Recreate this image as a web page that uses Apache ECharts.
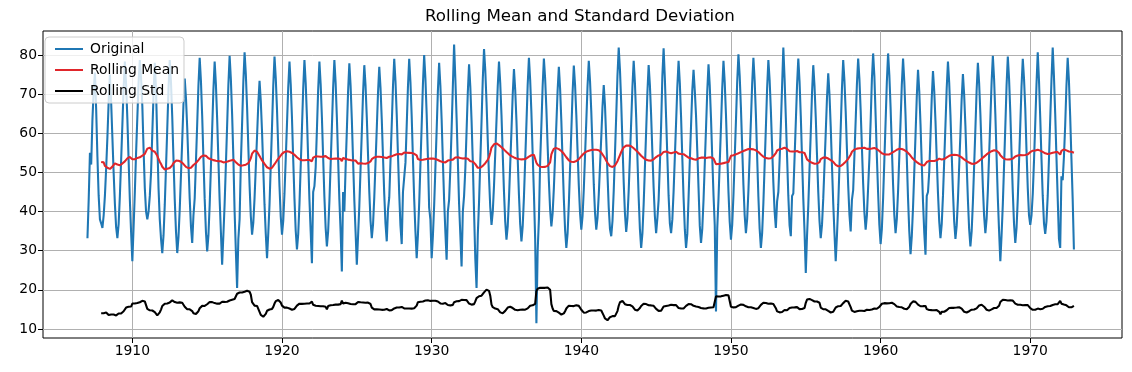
<!DOCTYPE html>
<html><head><meta charset="utf-8">
<script src="https://cdn.jsdelivr.net/npm/echarts@6/dist/echarts.min.js"></script>
<style>html,body{margin:0;padding:0;background:#fff}#c{width:1132px;height:372px}</style>
</head><body><div id="c"></div><script>
// Monthly series, Jan 1907 .. Dec 1972 (one row per year)
const startYear = 1907;
const original = [
33.2,43.0,55.0,52.0,63.5,71.0,75.5,66.0,54.0,44.0,38.0,37.0,
35.8,39.0,44.0,51.0,59.0,68.0,75.0,68.0,59.0,50.0,42.0,36.0,
33.2,36.8,44.0,53.0,62.1,71.5,78.3,72.5,63.8,53.2,43.0,34.8,
27.3,36.0,45.0,55.0,64.0,73.0,78.7,74.1,67.1,56.0,46.0,40.0,
38.0,40.0,44.0,50.0,60.0,70.0,78.0,71.0,58.0,46.0,38.0,33.0,
29.4,33.9,41.7,51.4,61.2,71.4,78.7,72.9,64.1,53.4,43.1,34.9,
29.4,33.5,40.6,49.4,58.2,67.4,74.0,69.0,61.4,52.2,43.3,36.2,
32.0,39.0,43.4,52.8,62.3,72.2,79.3,73.4,64.5,53.7,43.3,34.9,
29.8,33.9,41.6,51.3,60.9,71.1,78.3,72.5,63.8,53.2,43.0,34.8,
26.4,34.0,42.0,51.9,61.9,72.3,79.8,73.8,64.9,53.9,40.0,30.0,
20.5,33.0,38.0,52.3,62.4,73.1,80.7,75.1,66.7,56.5,46.7,38.8,
34.1,37.2,43.5,51.4,59.3,67.5,73.4,68.2,60.4,50.8,41.7,34.3,
28.1,34.5,41.9,51.8,61.7,72.2,79.6,74.1,66.0,55.9,46.4,38.7,
34.1,37.6,44.7,53.5,62.4,71.7,78.3,72.5,63.9,53.3,43.3,35.1,
30.3,34.2,41.9,51.6,61.3,71.4,78.7,72.9,64.1,53.4,43.1,34.9,
26.8,45.0,46.5,51.3,60.9,71.1,78.3,72.6,64.1,53.8,43.8,35.8,
31.1,34.9,42.5,52.0,61.6,71.6,78.7,72.9,64.1,53.4,43.1,34.9,
24.7,45.0,40.0,51.1,60.7,70.7,77.9,72.2,63.5,53.0,42.9,34.8,
26.4,33.8,41.4,50.9,60.3,70.3,77.4,72.1,64.1,54.4,45.1,37.6,
33.2,36.7,43.7,52.5,61.2,70.4,77.0,71.6,63.6,53.8,44.4,36.9,
32.4,40.5,43.6,52.9,62.2,72.0,79.0,73.3,64.8,54.4,44.5,36.4,
31.7,45.0,44.5,52.5,62.0,71.9,79.0,73.1,64.3,53.5,43.2,34.9,
28.1,34.0,42.0,52.0,62.0,72.5,80.0,74.0,65.0,54.0,41.0,38.0,
28.1,33.8,41.5,51.1,60.7,70.8,78.0,72.2,63.6,53.0,43.0,34.8,
27.7,40.0,43.0,51.0,61.0,72.0,82.7,74.0,64.0,53.0,42.0,34.0,
26.0,40.0,44.0,50.9,60.5,70.5,77.6,71.9,63.3,52.8,40.0,28.0,
20.5,34.1,42.4,52.7,63.0,73.8,81.5,76.1,68.0,58.2,48.7,41.1,
36.6,39.9,46.6,54.9,63.3,72.0,78.3,72.8,64.7,54.6,45.1,37.4,
32.8,36.3,43.3,52.0,60.7,69.9,76.4,71.1,63.2,53.5,44.3,36.8,
32.4,36.2,43.7,53.0,62.4,72.3,79.3,73.6,65.1,54.7,44.8,33.0,
11.5,30.0,38.0,52.7,62.1,72.0,79.1,74.0,66.2,56.8,47.8,40.5,
36.2,39.5,46.0,54.2,62.3,70.9,77.0,71.4,63.1,52.9,43.2,35.3,
30.7,34.4,41.9,51.2,60.5,70.3,77.3,72.3,64.7,55.5,46.7,39.6,
35.4,38.8,45.7,54.4,63.0,72.0,78.5,73.3,65.6,56.1,47.0,39.7,
35.4,38.4,44.3,51.6,59.0,66.8,72.3,67.0,58.5,49.5,41.0,35.5,
33.7,37.6,45.3,54.9,64.5,74.7,81.9,76.2,67.8,57.4,47.5,39.5,
34.8,38.3,45.3,54.0,62.8,71.9,78.5,72.8,64.2,53.6,43.6,35.5,
30.7,34.4,41.9,51.2,60.6,70.4,77.4,72.3,64.5,55.1,46.1,38.8,
34.5,38.3,43.0,52.0,62.0,74.6,81.7,74.0,64.0,54.0,44.0,37.0,
34.5,38.0,45.1,53.9,62.7,71.9,78.5,72.8,64.2,53.6,43.6,35.5,
30.7,34.3,43.5,53.0,62.0,71.0,76.2,70.9,64.5,55.5,46.0,36.4,
32.0,35.6,42.9,52.1,61.2,70.8,77.6,72.1,63.9,53.9,44.3,36.6,
14.5,35.7,43.2,52.5,61.8,71.5,78.5,73.0,64.8,54.7,45.1,37.4,
32.8,36.6,44.2,53.7,63.1,73.1,80.2,74.7,66.5,56.4,46.8,39.1,
34.5,38.1,45.3,54.2,63.2,72.6,79.3,73.5,64.7,54.0,43.8,35.6,
30.7,34.5,42.2,51.8,61.4,71.5,78.7,73.6,65.8,56.4,47.4,40.1,
35.8,42.6,45.0,53.0,62.0,72.0,81.9,74.0,64.0,54.0,44.0,36.5,
33.7,44.0,44.6,53.7,62.8,72.3,79.1,73.2,64.4,53.6,43.3,34.9,
24.3,33.8,41.4,50.9,60.3,70.3,77.4,72.1,64.1,54.4,45.1,37.6,
33.2,36.6,43.3,51.7,60.1,69.0,75.3,69.9,61.7,51.7,42.2,34.5,
27.3,33.9,41.7,51.4,61.2,71.4,78.7,73.4,65.6,55.9,46.7,39.3,
34.9,43.0,45.5,54.3,63.2,72.5,79.1,73.9,66.0,56.4,47.2,39.8,
35.4,39.0,46.2,53.5,63.0,73.7,80.4,74.6,64.5,54.0,44.8,36.6,
31.7,35.6,43.4,53.1,62.9,73.1,80.4,74.9,66.6,56.5,46.9,39.1,
34.5,38.1,45.2,54.1,63.0,72.4,79.1,73.2,64.4,53.6,43.3,34.9,
29.1,33.7,41.1,50.3,59.6,69.3,76.2,70.7,62.3,52.2,42.5,34.6,
29.0,44.0,45.0,50.2,59.4,69.0,75.9,70.8,63.1,53.7,44.7,37.5,
33.2,36.8,44.0,53.0,62.1,71.5,78.3,72.9,64.7,54.7,45.2,37.5,
33.0,36.4,43.1,51.5,59.9,68.8,75.1,69.8,61.9,52.2,43.0,35.5,
31.1,34.9,42.4,51.7,61.1,71.0,78.0,72.8,65.0,55.4,46.2,38.9,
34.5,38.1,45.4,54.4,63.5,73.0,79.8,73.8,64.9,53.9,43.4,35.0,
27.3,34.0,41.9,51.8,61.7,72.2,79.6,73.9,65.3,54.8,44.9,36.8,
32.0,35.8,43.3,52.7,62.1,72.0,79.0,73.9,66.3,55.5,46.0,39.0,
36.6,39.0,44.5,53.0,62.5,72.5,80.7,73.5,64.0,53.5,44.0,37.0,
34.3,37.5,44.0,53.5,63.5,73.5,81.9,74.5,65.0,54.0,43.5,33.0,
30.7,49.0,48.0,54.0,62.0,72.0,79.3,73.5,64.5,53.7,43.3,30.3
];
const xTicks = [1910, 1920, 1930, 1940, 1950, 1960, 1970];
const yTicks = [10, 20, 30, 40, 50, 60, 70, 80];
const windowSize = 12;
const seriesNames = ['Original', 'Rolling Mean', 'Rolling Std'];

// build [x, y] pairs (decimal year) and trailing 12-month rolling stats
const origData = original.map((v, i) => [startYear + i / 12, v]);
const meanData = [], stdData = [];
for (let i = windowSize - 1; i < original.length; i++) {
  const w = original.slice(i - windowSize + 1, i + 1);
  const m = w.reduce((a, b) => a + b, 0) / windowSize;
  const s = Math.sqrt(w.reduce((a, b) => a + (b - m) * (b - m), 0) / (windowSize - 1));
  meanData.push([origData[i][0], m]);
  stdData.push([origData[i][0], s]);
}

const font = 'DejaVu Sans';
const lw = 2.08;
const chart = echarts.init(document.getElementById('c'), null, {renderer: 'canvas'});
chart.setOption({
  animation: false,
  backgroundColor: '#fff',
  title: {
    text: 'Rolling Mean and Standard Deviation',
    left: 425, top: 8, padding: 0,
    textStyle: {fontFamily: font, fontSize: 16.7, fontWeight: 'normal', color: '#000'}
  },
  legend: {
    data: seriesNames,
    orient: 'vertical',
    left: 45, top: 37,
    padding: [5, 5, 5, 10],
    icon: 'rect',
    itemWidth: 28, itemHeight: 2, itemGap: 7,
    backgroundColor: 'rgba(255,255,255,0.8)',
    borderColor: '#cccccc', borderWidth: 1, borderRadius: 4,
    textStyle: {fontFamily: font, fontSize: 13.9, color: '#000', padding: [0, 0, 0, 2]}
  },
  grid: {left: 43, right: 10, top: 31, bottom: 34, show: true, borderColor: '#000', borderWidth: 1, backgroundColor: 'transparent'},
  xAxis: {
    type: 'value', min: 1904.03, max: 1976.13,
    axisLine: {show: false},
    axisTick: {show: true, customValues: xTicks, length: 5, lineStyle: {color: '#000', width: 1}},
    axisLabel: {customValues: xTicks, color: '#000', fontFamily: font, fontSize: 13.9, margin: 6,
      formatter: v => String(Math.round(v))},
    splitLine: {show: true, lineStyle: {color: '#b0b0b0', width: 1}}
  },
  yAxis: {
    type: 'value', min: 7.70, max: 86.13,
    axisLine: {show: false},
    axisTick: {show: true, customValues: yTicks, length: 5, lineStyle: {color: '#000', width: 1}},
    axisLabel: {customValues: yTicks, color: '#000', fontFamily: font, fontSize: 13.9, margin: 6,
      formatter: v => String(Math.round(v))},
    splitLine: {show: true, lineStyle: {color: '#b0b0b0', width: 1}}
  },
  series: [
    {name: seriesNames[0], type: 'line', data: origData, symbol: 'none', color: '#1f77b4', lineStyle: {width: lw, color: '#1f77b4'}},
    {name: seriesNames[1], type: 'line', data: meanData, symbol: 'none', color: '#e0262b', lineStyle: {width: lw, color: '#e0262b'}},
    {name: seriesNames[2], type: 'line', data: stdData, symbol: 'none', color: '#000', lineStyle: {width: lw, color: '#000'}}
  ]
});
</script></body></html>
